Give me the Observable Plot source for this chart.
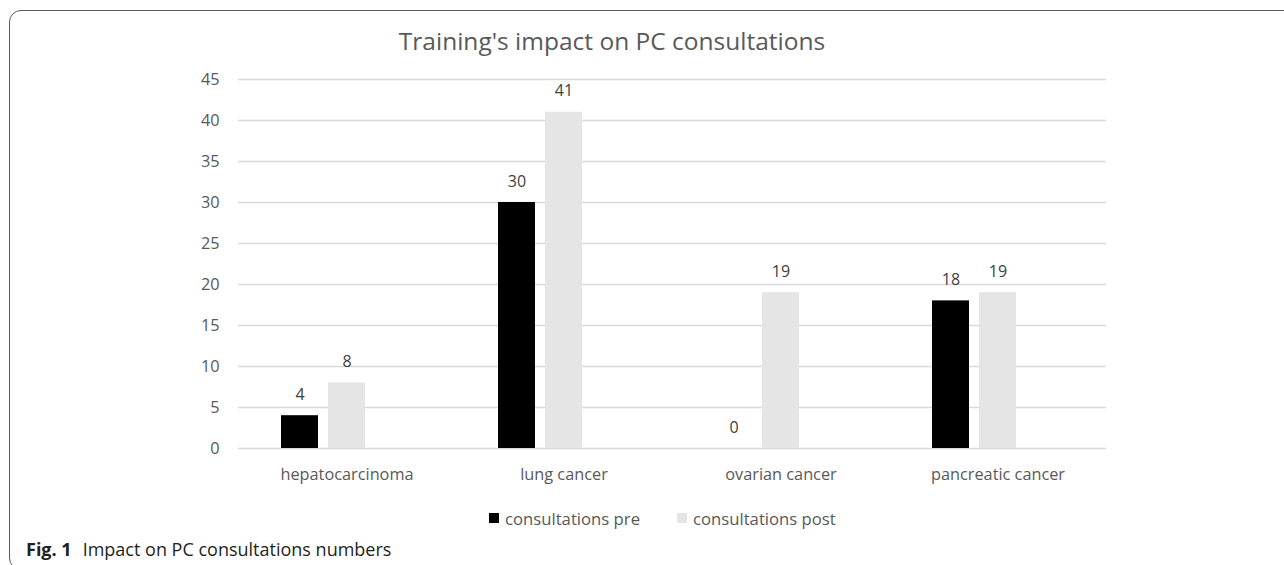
<!DOCTYPE html>
<html><head><meta charset="utf-8">
<script src="https://cdn.jsdelivr.net/npm/d3@7"></script>
<script src="https://cdn.jsdelivr.net/npm/@observablehq/plot@0.6"></script>
<style>
body{margin:0;background:#fff;}
#wrap{position:relative;width:1284px;height:565px;overflow:hidden;font-family:"Open Sans",sans-serif;}
#frame{position:absolute;left:9px;top:10px;width:1400px;height:560px;border:1.5px solid #5b5b5b;border-radius:12px;box-sizing:border-box;}
#title{position:absolute;left:612px;top:26px;transform:translateX(-50%);white-space:nowrap;font-size:24.5px;line-height:30px;color:#595959;}
#chart{position:absolute;left:0;top:0;}
.leg{position:absolute;top:508px;height:20px;display:flex;align-items:center;font-size:16.7px;color:#595959;white-space:nowrap;}
.sw{width:10px;height:10px;margin-right:6px;}
#caption{position:absolute;left:26px;top:538px;font-size:18px;line-height:22px;color:#231f20;white-space:nowrap;}
#caption b{margin-right:11px;}
</style></head>
<body>
<div id="wrap">
  <div id="frame"></div>
  <div id="chart"></div>
  <div id="title"></div>
  <div id="legend"></div>
  <div id="caption"></div>
</div>
<script>
const chartTitle = "Training's impact on PC consultations";
const categories = ["hepatocarcinoma", "lung cancer", "ovarian cancer", "pancreatic cancer"];
const series = ["consultations pre", "consultations post"];
const pre = [4, 30, 0, 18];
const post = [8, 41, 19, 19];
const yTicks = [0, 5, 10, 15, 20, 25, 30, 35, 40, 45];
const colors = ["#000000", "#e5e5e5"];
const captionLabel = "Fig. 1";
const captionText = "Impact on PC consultations numbers";

const data = categories.flatMap((c, i) => [
  {category: c, series: series[0], value: pre[i]},
  {category: c, series: series[1], value: post[i]}
]);
// Excel reserves a third (empty) slot in each group
const slots = [...series, ""];

const chart = Plot.plot({
  width: 1284,
  height: 500,
  marginLeft: 237,
  marginRight: 178,
  marginTop: 79,
  marginBottom: 52,
  style: {fontFamily: "Open Sans", fontSize: "16.3px", color: "#595959", background: "transparent"},
  facet: {data, x: "category"},
  fx: {domain: categories, padding: 0, axis: "bottom", tickSize: 0, tickPadding: 20, label: null},
  x: {domain: slots, paddingInner: 10 / 48, paddingOuter: 0.867, axis: null},
  y: {domain: [0, 45], ticks: yTicks, tickSize: 0, tickPadding: 19, label: null},
  color: {domain: series, range: colors},
  marks: [
    Plot.ruleY(yTicks, {stroke: "#d9d9d9", strokeWidth: 1.5}),
    Plot.barY(data, {x: "series", y: "value", fill: "series"}),
    Plot.text(data, {x: "series", y: "value", text: d => String(d.value), dy: -21, fill: "#404040", fontSize: 16})
  ]
});
document.getElementById("chart").appendChild(chart);
document.getElementById("title").textContent = chartTitle;

const legend = document.getElementById("legend");
const legLefts = [489, 677];
series.forEach((s, i) => {
  const item = document.createElement("div");
  item.className = "leg";
  item.style.left = legLefts[i] + "px";
  const sw = document.createElement("div");
  sw.className = "sw";
  sw.style.background = colors[i];
  const t = document.createElement("span");
  t.textContent = s;
  item.appendChild(sw);
  item.appendChild(t);
  legend.appendChild(item);
});

const cap = document.getElementById("caption");
const b = document.createElement("b");
b.textContent = captionLabel;
cap.appendChild(b);
cap.appendChild(document.createTextNode(captionText));
</script>
</body></html>
